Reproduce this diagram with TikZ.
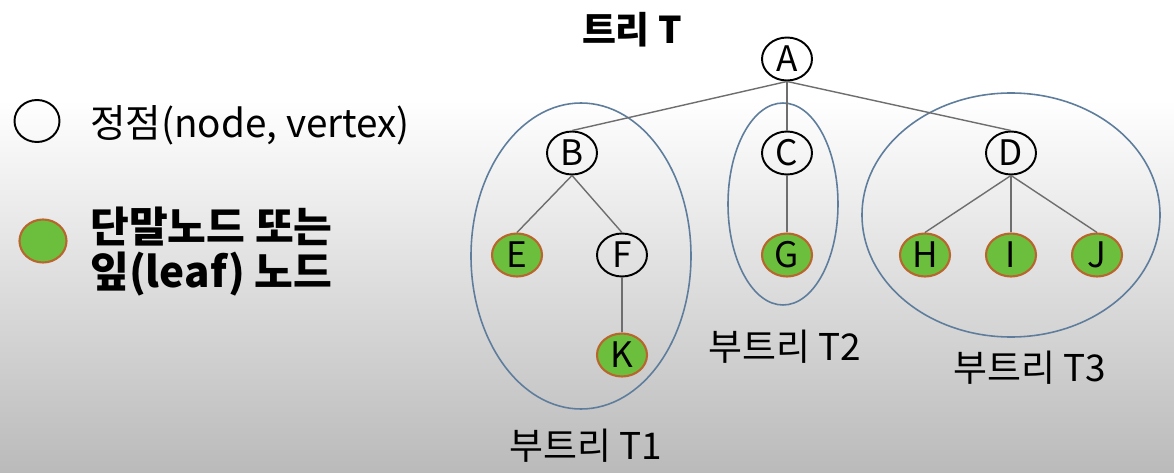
\documentclass[tikz,border=0pt]{standalone}
\usepackage{fontspec}
\setmainfont{Noto Sans CJK KR}
\usetikzlibrary{shapes.geometric}

\definecolor{leafgreen}{HTML}{6CBF3C}
\definecolor{leafrim}{HTML}{B8652E}
\definecolor{subrim}{HTML}{5E7D9C}
\definecolor{edgegray}{HTML}{6E6E6E}

\tikzset{
	vertex/.style={ellipse, draw=black, line width=1.1pt, minimum width=1cm, minimum height=0.86cm, inner sep=0pt, font=\fontsize{20}{20}\selectfont},
	leaf/.style={vertex, draw=leafrim, fill=leafgreen, line width=1.2pt},
	edge/.style={draw=edgegray, line width=0.8pt},
	subtree/.style={draw=subrim, line width=0.9pt},
	label/.style={font=\fontsize{21}{25}\selectfont},
	legend/.style={anchor=west, font=\fontsize{22}{26}\selectfont}
}

\begin{document}
\begin{tikzpicture}[x=0.02cm, y=-0.02cm]
	% background
	\fill
		[white] (0,0) rectangle (1174,100);
	\shade
		[top color=white, bottom color=black!27] (0,100) rectangle (1174,473);
	\useasboundingbox (0,0) rectangle (1174,473);

	% title and legend
	\node [label, font=\fontsize{21}{25}\selectfont\bfseries] (title) at (632,30) {트리 T};

	\node [vertex, minimum width=0.9cm, minimum height=0.84cm] (legvertex) at (37,121) {};
	\node [legend] (legvertextext) at (84,125) {정점(node, vertex)};

	\node [leaf, minimum width=0.94cm, minimum height=0.86cm] (legleaf) at (43,241) {};
	\node [legend, font=\fontsize{24}{28}\selectfont\bfseries] (legleaftext1) at (84,227) {단말노드 또는};
	\node [legend, font=\fontsize{24}{28}\selectfont\bfseries] (legleaftext2) at (84,274) {잎(leaf) 노드};

	% subtrees
	\draw
		[subtree] (581,256) ellipse [x radius=110, y radius=153];
	\draw
		[subtree] (783,204) ellipse [x radius=55, y radius=101];
	\draw
		[subtree] (1011,215) ellipse [x radius=149, y radius=122];

	% inner nodes
	\node [vertex] (A) at (787,59) {A};
	\node [vertex] (B) at (572,153) {B};
	\node [vertex] (C) at (787,153) {C};
	\node [vertex] (D) at (1011,153) {D};
	\node [vertex] (F) at (622,255) {F};

	% leaves
	\foreach \name/\x/\y in {E/517/255, G/787/255, H/925/255, I/1011/255, J/1097/255, K/622/355}
		\node [leaf] (\name) at (\x,\y) {\name};

	% edges
	\foreach \from/\to in {A/B, A/C, A/D, B/E, B/F, C/G, D/H, D/I, D/J, F/K}
		\draw
			[edge] (\from.south) -- (\to.north);

	% subtree labels
	\node [label] (T1) at (586,446) {부트리 T1};
	\node [label] (T2) at (785,347) {부트리 T2};
	\node [label] (T3) at (1030,368) {부트리 T3};
\end{tikzpicture}
\end{document}
